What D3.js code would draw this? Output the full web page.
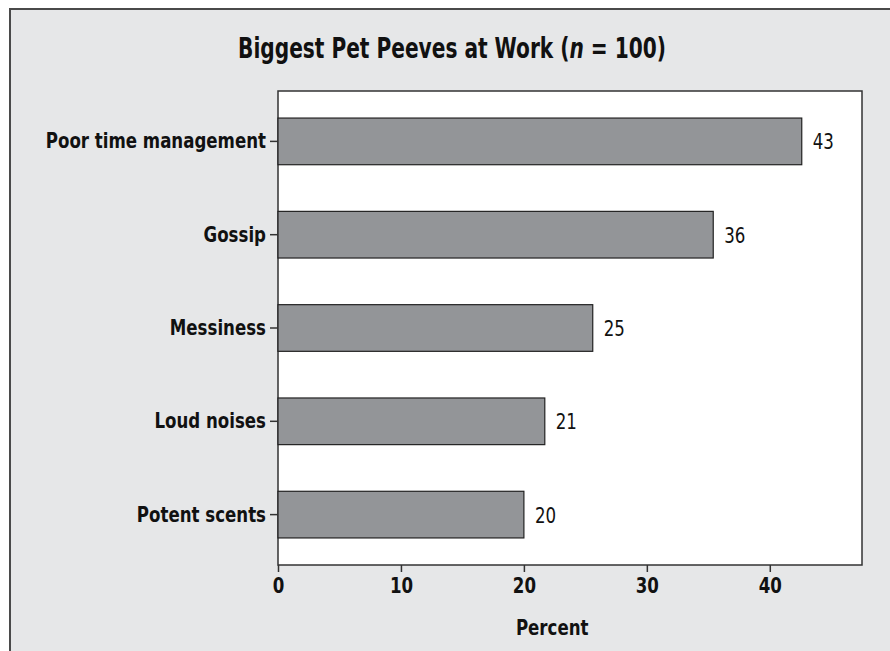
<!DOCTYPE html>
<html>
<head>
<meta charset="utf-8">
<script src="https://cdn.jsdelivr.net/npm/d3@7/dist/d3.min.js"></script>
<style>
  html, body { margin: 0; padding: 0; background: #fff; }
  svg { display: block; }
  text { font-family: 'Liberation Sans Narrow', 'DejaVu Sans Condensed', 'Arial Narrow', sans-serif; fill: #111; }
</style>
</head>
<body>
<div id="chart"></div>
<script>
  // categories top to bottom
  var categories = ['Poor time management', 'Gossip', 'Messiness', 'Loud noises', 'Potent scents'];
  // bar lengths as drawn (percent)
  var values = [42.6, 35.4, 25.6, 21.7, 20.0];
  // printed value labels
  var valueLabels = ['43', '36', '25', '21', '20'];
  var xTicks = [0, 10, 20, 30, 40];

  var width = 890, height = 651;
  var margin = { top: 91, right: 28, bottom: 86, left: 278 };
  var innerW = width - margin.left - margin.right;
  var innerH = height - margin.top - margin.bottom;

  // the original face is a narrow grotesque; squeeze the fallback a bit
  var squeeze = 0.84;
  function narrow(sel, k) {
    sel.each(function() {
      var len = this.getComputedTextLength();
      d3.select(this)
        .attr('textLength', len * (k || squeeze))
        .attr('lengthAdjust', 'spacingAndGlyphs');
    });
  }

  var svg = d3.select('#chart').append('svg')
    .attr('width', width)
    .attr('height', height);

  // framed grey panel
  svg.append('rect')
    .attr('x', 10).attr('y', 9)
    .attr('width', width).attr('height', height)
    .attr('fill', '#e6e7e8')
    .attr('stroke', '#4a4a4a')
    .attr('stroke-width', 2);

  // title (mixed styles, so squeeze the whole group instead of textLength)
  var title = svg.append('g')
    .attr('transform', 'translate(452,58) scale(0.8,1)')
    .append('text')
    .attr('text-anchor', 'middle')
    .style('font-size', '28px')
    .style('font-weight', 'bold');
  title.append('tspan').text('Biggest Pet Peeves at Work (');
  title.append('tspan').style('font-style', 'italic').text('n');
  title.append('tspan').text(' = 100)');

  var g = svg.append('g')
    .attr('transform', 'translate(' + margin.left + ',' + margin.top + ')');

  var x = d3.scaleLinear().domain([0, 47.5]).range([0, innerW]);
  var y = d3.scaleBand().domain(categories).range([0, innerH])
    .paddingInner(0.5).paddingOuter(0.29);

  // plot area
  g.append('rect')
    .attr('width', innerW).attr('height', innerH)
    .attr('fill', '#fff')
    .attr('stroke', '#333')
    .attr('stroke-width', 1.5);

  // bars
  g.selectAll('.bar')
    .data(values)
    .enter().append('rect')
    .attr('class', 'bar')
    .attr('x', x(0))
    .attr('y', function(d, i) { return y(categories[i]); })
    .attr('width', function(d) { return x(d) - x(0); })
    .attr('height', y.bandwidth())
    .attr('fill', '#939598')
    .attr('stroke', '#222')
    .attr('stroke-width', 1.2);

  // value labels
  var vals = g.selectAll('.val')
    .data(values)
    .enter().append('text')
    .attr('class', 'val')
    .attr('x', function(d) { return x(d) + 11; })
    .attr('y', function(d, i) { return y(categories[i]) + y.bandwidth() / 2; })
    .attr('dy', '0.36em')
    .style('font-size', '22px')
    .text(function(d, i) { return valueLabels[i]; });

  // x axis
  var xAxis = g.append('g')
    .attr('transform', 'translate(0,' + innerH + ')')
    .call(d3.axisBottom(x).tickValues(xTicks).tickSize(7).tickPadding(5).tickSizeOuter(0));
  xAxis.select('.domain').remove();
  xAxis.selectAll('line').attr('stroke', '#333').attr('stroke-width', 1.5);
  xAxis.selectAll('text')
    .style('font-size', '22px')
    .style('font-weight', 'bold')
    .attr('fill', '#111');

  // y axis
  var yAxis = g.append('g')
    .call(d3.axisLeft(y).tickSize(8).tickPadding(4).tickSizeOuter(0));
  yAxis.select('.domain').remove();
  yAxis.selectAll('line').attr('stroke', '#333').attr('stroke-width', 1.5);
  yAxis.selectAll('text')
    .style('font-size', '22px')
    .style('font-weight', 'bold')
    .attr('fill', '#111');

  // x axis title
  var xTitle = svg.append('text')
    .attr('x', margin.left + x(22.3))
    .attr('y', 635)
    .attr('text-anchor', 'middle')
    .style('font-size', '22px')
    .style('font-weight', 'bold')
    .text('Percent');

  narrow(vals);
  narrow(xAxis.selectAll('text'));
  narrow(yAxis.selectAll('text'));
  narrow(xTitle);
</script>
</body>
</html>
